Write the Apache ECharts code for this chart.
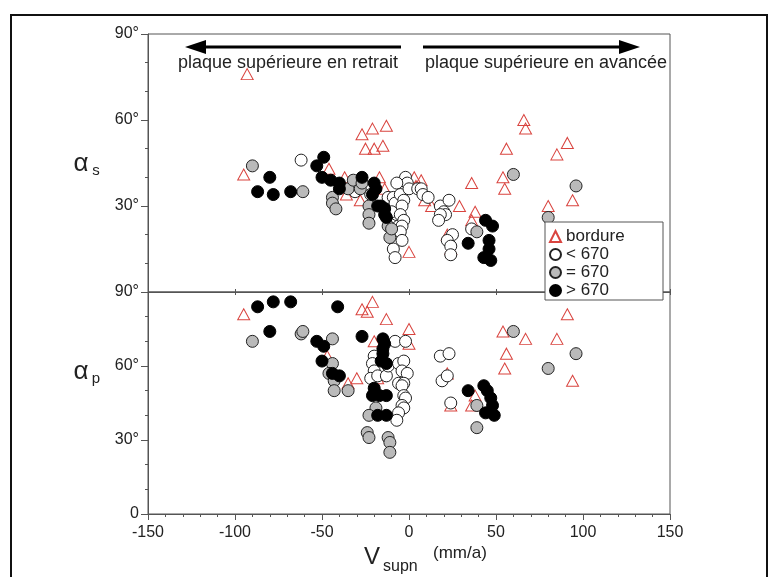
<!DOCTYPE html>
<html><head><meta charset="utf-8">
<script src="https://cdn.jsdelivr.net/npm/echarts/dist/echarts.min.js"></script>
<style>html,body{margin:0;padding:0;background:#fff}#c{width:778px;height:577px}</style>
</head><body><div id="c"></div><script>
// ---- data (x = Vsupn in mm/a, y = angle in degrees) ----
const xTicks = [-150, -100, -50, 0, 50, 100, 150];
const yTicks = [0, 30, 60, 90];
const legendNames = ['bordure', '< 670', '= 670', '> 670'];

// upper panel: alpha_s
const topBordure = [[-93,76],[-95,41],[-46,43],[-37,40],[-36,34],[-28,32],[-27,55],[-21,57],[-13,58],[-25,50],[-20,50],[-15,51],[-17,40],[-14,36],[0,14],[3,40],[7,39],[4,37],[9,32],[13,30],[29,30],[36,38],[38,28],[36,25],[22,20],[24,15],[54,40],[55,36],[56,50],[66,60],[67,57],[85,48],[91,52],[80,30],[94,32]];
const topLow = [[-62,46],[-32,37],[-31,35],[-24,36],[-22,34],[-12,33],[-9,33],[-8,31],[-7,27],[-6,23],[-7,18],[-9,15],[-8,12],[-10,28],[-2,40],[-1,38],[-7,38],[-5,34],[-3,32],[-4,30],[-5,27],[-3,25],[-4,23],[-5,21],[-4,18],[0,36],[5,36],[7,36],[8,34],[11,33],[18,30],[23,32],[20,28],[21,27],[18,27],[17,25],[25,20],[22,18],[24,16],[24,13],[36,22]];
const topEq = [[-90,44],[-61,35],[-44,33],[-44,31],[-42,29],[-35,36],[-32,39],[-28,36],[-27,38],[-23,30],[-23,27],[-23,24],[-12,23],[-11,19],[-10,22],[60,41],[96,37],[80,26],[39,21]];
const topHigh = [[-80,40],[-87,35],[-78,34],[-68,35],[-49,47],[-53,44],[-50,40],[-45,39],[-40,38],[-40,36],[-27,40],[-20,38],[-19,36],[-21,34],[-18,30],[-16,30],[-14,29],[-14,27],[-13,26],[34,17],[44,25],[48,23],[46,18],[46,15],[43,12],[47,11]];

// lower panel: alpha_p
const botBordure = [[-95,81],[-47,64],[-35,53],[-30,55],[-27,83],[-24,82],[-21,86],[-13,79],[0,75],[-20,70],[0,69],[-18,55],[22,57],[24,44],[38,48],[36,44],[54,74],[67,71],[56,65],[55,59],[91,81],[85,71],[94,54]];
const botLow = [[-8,70],[-2,70],[-20,64],[-21,61],[-20,58],[-22,55],[-18,56],[-13,56],[-12,60],[-6,61],[-3,62],[-4,58],[-1,57],[-6,53],[-3,53],[-4,52],[-3,48],[-2,47],[-4,44],[-3,43],[-6,41],[-7,38],[18,64],[23,65],[19,54],[22,56],[24,45]];
const botEq = [[-90,70],[-62,73],[-61,74],[-44,71],[-44,61],[-46,57],[-43,54],[-43,50],[-35,50],[-19,43],[-23,40],[-24,33],[-23,31],[-12,31],[-11,29],[-11,25],[39,44],[39,35],[60,74],[80,59],[96,65]];
const botHigh = [[-87,84],[-78,86],[-68,86],[-80,74],[-41,84],[-27,72],[-53,70],[-49,68],[-50,62],[-44,57],[-40,56],[-15,71],[-14,69],[-15,67],[-15,65],[-16,62],[-13,61],[-20,51],[-21,48],[-17,48],[-13,48],[-18,40],[-13,40],[34,50],[43,52],[45,50],[47,47],[48,44],[44,41],[49,40]];

// ---- styles ----
const AX = '#555';
const TXT = '#222';
const FONT = 'Liberation Sans, Arial, sans-serif';
const RED = '#d9443f';

const styles = {
  'bordure': {symbol: 'triangle', symbolSize: [12, 11], itemStyle: {color: 'rgba(255,255,255,0)', borderColor: RED, borderWidth: 1, opacity: 1}},
  '< 670': {symbol: 'circle', symbolSize: 12, itemStyle: {color: '#ffffff', borderColor: '#222', borderWidth: 1, opacity: 1}},
  '= 670': {symbol: 'circle', symbolSize: 12, itemStyle: {color: '#bababa', borderColor: '#222', borderWidth: 1, opacity: 1}},
  '> 670': {symbol: 'circle', symbolSize: 12, itemStyle: {color: '#000000', borderColor: '#000', borderWidth: 1, opacity: 1}}
};

function mk(name, data, gi) {
  return Object.assign({type: 'scatter', name: name, data: data, xAxisIndex: gi === 0 ? 0 : 1, yAxisIndex: gi, z: 2,
    emphasis: {disabled: true}}, styles[name]);
}

const series = [
  mk('bordure', topBordure, 0), mk('< 670', topLow, 0), mk('= 670', topEq, 0), mk('> 670', topHigh, 0),
  mk('bordure', botBordure, 1), mk('< 670', botLow, 1), mk('= 670', botEq, 1), mk('> 670', botHigh, 1)
];

const xMin = xTicks[0], xMax = xTicks[xTicks.length - 1], xInt = xTicks[1] - xTicks[0];
const yMin = yTicks[0], yMax = yTicks[yTicks.length - 1], yInt = yTicks[1] - yTicks[0];

const baseX = {
  type: 'value', min: xMin, max: xMax, interval: xInt,
  axisLine: {show: true, onZero: false, lineStyle: {color: AX, width: 1}},
  splitLine: {show: false}
};
const baseY = {
  type: 'value', min: yMin, max: yMax, interval: yInt,
  axisLine: {show: true, onZero: false, lineStyle: {color: AX, width: 1}},
  axisTick: {show: true, inside: false, length: 7, lineStyle: {color: AX}},
  minorTick: {show: true, splitNumber: 3, length: 3, lineStyle: {color: AX}},
  splitLine: {show: false},
  axisLabel: {fontSize: 16, color: TXT, fontFamily: FONT, margin: 9}
};

const option = {
  animation: false,
  backgroundColor: '#fff',
  grid: [
    {left: 148, top: 34, width: 522, height: 258, show: true, borderColor: AX, borderWidth: 1, backgroundColor: 'transparent'},
    {left: 148, top: 292, width: 522, height: 222, show: true, borderColor: AX, borderWidth: 1, backgroundColor: 'transparent'}
  ],
  xAxis: [
    Object.assign({}, baseX, {gridIndex: 0, position: 'bottom', axisTick: {show: true, inside: false, length: 3, lineStyle: {color: AX}}, axisLabel: {show: false}}),
    Object.assign({}, baseX, {gridIndex: 1, position: 'bottom',
      axisTick: {show: true, inside: false, length: 6, lineStyle: {color: AX}},
      minorTick: {show: true, splitNumber: 5, length: 3, lineStyle: {color: AX}},
      axisLabel: {show: true, fontSize: 16, color: TXT, fontFamily: FONT, margin: 11}}),
    Object.assign({}, baseX, {gridIndex: 1, position: 'top', axisTick: {show: true, inside: false, length: 3, lineStyle: {color: AX}}, axisLabel: {show: false}})
  ],
  yAxis: [
    Object.assign({}, baseY, {gridIndex: 0, axisLabel: Object.assign({}, baseY.axisLabel, {formatter: v => v === yMin ? '' : v + '°'})}),
    Object.assign({}, baseY, {gridIndex: 1, axisLabel: Object.assign({}, baseY.axisLabel, {formatter: v => v === yMin ? String(v) : v + '°'})})
  ],
  legend: {
    data: legendNames, orient: 'vertical', left: 549, top: 228, padding: 0, itemGap: 1,
    itemWidth: 11, itemHeight: 11, z: 6,
    textStyle: {fontSize: 17, color: TXT, fontFamily: FONT, padding: [0, 0, 0, 0]},
    selectedMode: false
  },
  graphic: [
    // outer frame
    {type: 'rect', shape: {x: 11, y: 15, width: 756, height: 600}, style: {fill: 'none', stroke: '#111', lineWidth: 2}, z: 1, silent: true},
    // legend box
    {type: 'rect', shape: {x: 545, y: 222, width: 118, height: 78}, style: {fill: '#fff', stroke: AX, lineWidth: 1}, z: 5, silent: true},
    // arrows
    {type: 'line', shape: {x1: 401, y1: 47, x2: 200, y2: 47}, style: {stroke: '#000', lineWidth: 3}, z: 5},
    {type: 'polygon', shape: {points: [[185, 47], [206, 40], [206, 54]]}, style: {fill: '#000'}, z: 5},
    {type: 'line', shape: {x1: 423, y1: 47, x2: 625, y2: 47}, style: {stroke: '#000', lineWidth: 3}, z: 5},
    {type: 'polygon', shape: {points: [[640, 47], [619, 40], [619, 54]]}, style: {fill: '#000'}, z: 5},
    {type: 'text', x: 288, y: 63, style: {text: 'plaque supérieure en retrait', fontSize: 18, fill: TXT, fontFamily: FONT, align: 'center', verticalAlign: 'middle'}, z: 5},
    {type: 'text', x: 546, y: 63, style: {text: 'plaque supérieure en avancée', fontSize: 18, fill: TXT, fontFamily: FONT, align: 'center', verticalAlign: 'middle'}, z: 5},
    // y names
    {type: 'text', x: 81, y: 164, style: {text: 'α', fontSize: 26, fill: TXT, fontFamily: FONT, align: 'center', verticalAlign: 'middle'}, z: 5},
    {type: 'text', x: 96, y: 171, style: {text: 's', fontSize: 15, fill: TXT, fontFamily: FONT, align: 'center', verticalAlign: 'middle'}, z: 5},
    {type: 'text', x: 81, y: 372, style: {text: 'α', fontSize: 26, fill: TXT, fontFamily: FONT, align: 'center', verticalAlign: 'middle'}, z: 5},
    {type: 'text', x: 96, y: 379, style: {text: 'p', fontSize: 15, fill: TXT, fontFamily: FONT, align: 'center', verticalAlign: 'middle'}, z: 5},
    // x name
    {type: 'text', x: 372, y: 557, style: {text: 'V', fontSize: 24, fill: TXT, fontFamily: FONT, align: 'center', verticalAlign: 'middle'}, z: 5},
    {type: 'text', x: 383, y: 567, style: {text: 'supn', fontSize: 16, fill: TXT, fontFamily: FONT, align: 'left', verticalAlign: 'middle'}, z: 5},
    {type: 'text', x: 433, y: 553, style: {text: '(mm/a)', fontSize: 17, fill: TXT, fontFamily: FONT, align: 'left', verticalAlign: 'middle'}, z: 5}
  ],
  series: series
};

const chart = echarts.init(document.getElementById('c'), null, {renderer: 'canvas'});
chart.setOption(option);
</script></body></html>
